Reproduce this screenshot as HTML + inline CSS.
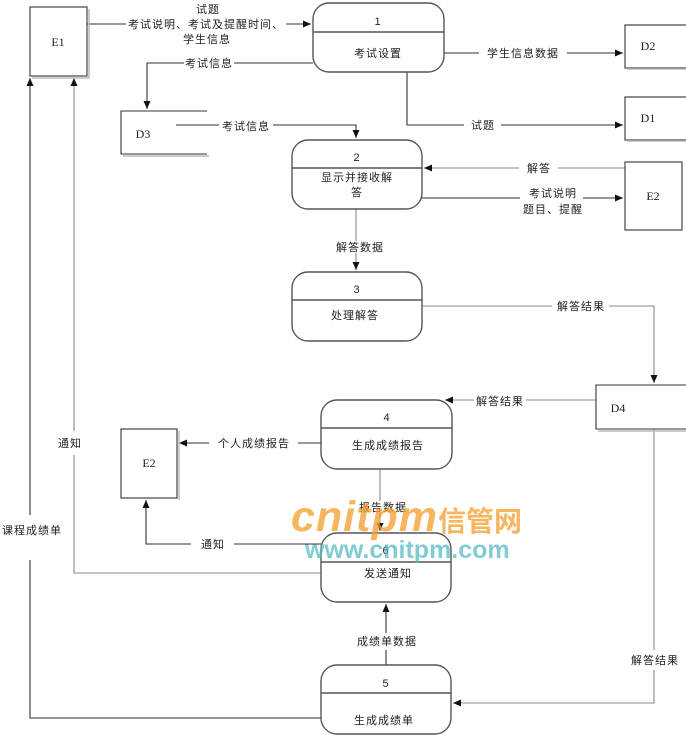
<!DOCTYPE html>
<html>
<head>
<meta charset="utf-8">
<style>
html,body{margin:0;padding:0;background:#fff;}
svg{display:block;}
.t{font-family:"Liberation Sans","Noto Sans CJK SC",sans-serif;font-size:11px;fill:#222;text-anchor:middle;letter-spacing:1px;}
.s{font-family:"Liberation Serif","Noto Serif CJK SC",serif;font-size:12px;fill:#222;text-anchor:middle;}
.ln{fill:none;stroke:#333;stroke-width:1.1;}
.lg{fill:none;stroke:#888;stroke-width:1.1;}
.pb{fill:#fff;stroke:#555;stroke-width:1.4;}
.bx{fill:#fff;stroke:#333;stroke-width:1.1;}
.sh{fill:none;stroke:#bbb;stroke-width:1.5;}
</style>
</head>
<body>
<svg width="686" height="735" viewBox="0 0 686 735" xmlns="http://www.w3.org/2000/svg">
<defs>
<marker id="a" markerUnits="userSpaceOnUse" markerWidth="9" markerHeight="8" refX="8" refY="4" orient="auto">
<path d="M0,0.5 L8,4 L0,7.5 z" fill="#111"/>
</marker>
</defs>

<!-- connectors -->
<polyline class="ln" points="87,24 311,24" marker-end="url(#a)"/>
<polyline class="ln" points="313,63 147,63 147,109" marker-end="url(#a)"/>
<polyline class="ln" points="176,125 356,125 356,138" marker-end="url(#a)"/>
<polyline class="ln" points="444,53 623,53" marker-end="url(#a)"/>
<polyline class="ln" points="407,72 407,125 623,125" marker-end="url(#a)"/>
<polyline class="lg" points="625,168 424,168" marker-end="url(#a)"/>
<polyline class="ln" points="422,198 623,198" marker-end="url(#a)"/>
<polyline class="lg" points="356,209 356,270" marker-end="url(#a)"/>
<polyline class="lg" points="422,306 654,306 654,383" marker-end="url(#a)"/>
<polyline class="lg" points="596,400 445,400" marker-end="url(#a)"/>
<polyline class="ln" points="321,443 179,443" marker-end="url(#a)"/>
<polyline class="lg" points="380,469 380,531" marker-end="url(#a)"/>
<polyline class="ln" points="321,544 146,544 146,500" marker-end="url(#a)"/>
<polyline class="lg" points="321,573 74,573 74,78" marker-end="url(#a)"/>
<polyline class="ln" points="321,718 30,718 30,78" marker-end="url(#a)"/>
<polyline class="ln" points="386,665 386,604" marker-end="url(#a)"/>
<polyline class="lg" points="654,429 654,703 453,703" marker-end="url(#a)"/>

<!-- E1 -->
<line class="sh" x1="89" y1="9" x2="89" y2="78"/>
<line class="sh" x1="32" y1="78" x2="89" y2="78"/>
<rect class="bx" x="30" y="7" width="57" height="69"/>
<text class="s" x="58" y="46">E1</text>

<!-- Process 1 -->
<rect class="pb" x="313" y="3" width="131" height="69" rx="16"/>
<line class="pb" x1="313" y1="32" x2="444" y2="32"/>
<text class="t" x="378" y="25">1</text>
<text class="t" x="378" y="57">考试设置</text>

<!-- D3 -->
<polyline class="sh" points="123,156 209,156"/>
<polyline class="bx" style="fill:none" points="207,111 121,111 121,154 207,154"/>
<text class="s" x="143" y="138">D3</text>

<!-- D2 / D1 -->
<rect class="bx" x="625" y="25" width="70" height="43"/>
<line class="sh" x1="627" y1="69" x2="686" y2="69"/>
<text class="s" x="648" y="50">D2</text>
<rect class="bx" x="625" y="97" width="70" height="43"/>
<line class="sh" x1="627" y1="141" x2="686" y2="141"/>
<text class="s" x="648" y="122">D1</text>

<!-- Process 2 -->
<rect class="pb" x="292" y="140" width="130" height="69" rx="16"/>
<line class="pb" x1="292" y1="168" x2="422" y2="168"/>
<text class="t" x="357" y="161">2</text>
<text class="t" x="357" y="181">显示并接收解</text>
<text class="t" x="357" y="196">答</text>

<!-- E2 top -->
<rect class="bx" x="625" y="162" width="57" height="68"/>
<text class="s" x="653" y="200">E2</text>

<!-- Process 3 -->
<rect class="pb" x="292" y="272" width="130" height="69" rx="16"/>
<line class="pb" x1="292" y1="300" x2="422" y2="300"/>
<text class="t" x="357" y="293">3</text>
<text class="t" x="355" y="319">处理解答</text>

<!-- D4 -->
<line class="sh" x1="598" y1="431" x2="686" y2="431"/>
<polyline class="bx" style="fill:#fff" points="686,385 596,385 596,429 686,429"/>
<text class="s" x="618" y="412">D4</text>

<!-- Process 4 -->
<rect class="pb" x="321" y="400" width="131" height="69" rx="16"/>
<line class="pb" x1="321" y1="428" x2="452" y2="428"/>
<text class="t" x="387" y="421">4</text>
<text class="t" x="388" y="449">生成成绩报告</text>

<!-- E2 bottom -->
<line class="sh" x1="179" y1="431" x2="179" y2="500"/>
<rect class="bx" x="121" y="429" width="56" height="69"/>
<text class="s" x="149" y="467">E2</text>

<!-- Process 6 -->
<rect class="pb" x="321" y="533" width="130" height="69" rx="16"/>
<line class="pb" x1="321" y1="562" x2="451" y2="562"/>
<text class="t" x="386" y="554">6</text>
<text class="t" x="388" y="577">发送通知</text>

<!-- Process 5 -->
<rect class="pb" x="321" y="665" width="130" height="69" rx="16"/>
<line class="pb" x1="321" y1="693" x2="451" y2="693"/>
<text class="t" x="386" y="687">5</text>
<text class="t" x="384" y="724">生成成绩单</text>

<!-- label backgrounds -->
<g fill="#fff">
<rect x="126" y="18" width="160" height="12"/>
<rect x="184" y="57" width="50" height="12"/>
<rect x="219" y="119" width="54" height="12"/>
<rect x="479" y="47" width="88" height="12"/>
<rect x="464" y="119" width="37" height="12"/>
<rect x="519" y="162" width="39" height="12"/>
<rect x="520" y="187" width="63" height="28"/>
<rect x="332" y="241" width="52" height="12"/>
<rect x="552" y="300" width="57" height="12"/>
<rect x="474" y="394" width="52" height="12"/>
<rect x="209" y="437" width="89" height="12"/>
<rect x="355" y="501" width="54" height="12"/>
<rect x="191" y="538" width="43" height="12"/>
<rect x="55" y="431" width="30" height="24"/>
<rect x="0" y="515" width="64" height="45"/>
<rect x="358" y="633" width="56" height="17"/>
<rect x="627" y="650" width="56" height="20"/>
</g>

<!-- labels -->
<text class="t" x="208" y="13">试题</text>
<text class="t" x="206" y="28">考试说明、考试及提醒时间、</text>
<text class="t" x="207" y="43">学生信息</text>
<text class="t" x="209" y="67">考试信息</text>
<text class="t" x="246" y="130">考试信息</text>
<text class="t" x="523" y="57">学生信息数据</text>
<text class="t" x="483" y="129">试题</text>
<text class="t" x="539" y="172">解答</text>
<text class="t" x="553" y="197">考试说明</text>
<text class="t" x="553" y="213">题目、提醒</text>
<text class="t" x="360" y="251">解答数据</text>
<text class="t" x="581" y="310">解答结果</text>
<text class="t" x="500" y="405">解答结果</text>
<text class="t" x="254" y="447">个人成绩报告</text>
<text class="t" x="383" y="511">报告数据</text>
<text class="t" x="213" y="548">通知</text>
<text class="t" x="70" y="447">通知</text>
<text class="t" x="32" y="534">课程成绩单</text>
<text class="t" x="387" y="645">成绩单数据</text>
<text class="t" x="655" y="664">解答结果</text>

<!-- watermark -->
<text x="291" y="531" style="font-family:'Liberation Sans',sans-serif;font-weight:bold;font-style:italic;font-size:43px;fill:rgba(246,160,50,0.78);letter-spacing:1px;">cnitpm<tspan style="font-family:'Noto Sans CJK SC',sans-serif;font-style:normal;font-size:28px;letter-spacing:0;">信管网</tspan></text>
<text x="305" y="558" style="font-family:'Liberation Sans',sans-serif;font-weight:bold;font-size:25px;fill:rgba(80,185,192,0.72);">www.cnitpm.com</text>
</svg>
</body>
</html>
